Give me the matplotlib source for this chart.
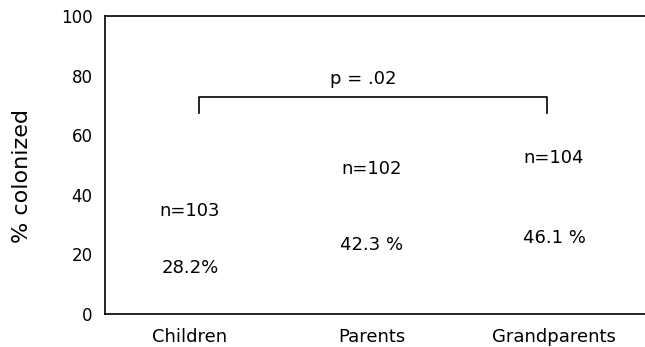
import matplotlib
matplotlib.use("Agg")
import matplotlib.pyplot as plt

groups = ["Children", "Parents", "Grandparents"]
pct = [28.2, 42.3, 46.1]
pct_labels = ["28.2%", "42.3 %", "46.1 %"]
n_labels = ["n=103", "n=102", "n=104"]
pval = "p = .02"

plt.rcParams["font.family"] = ["DejaVu Sans"]

fig = plt.figure(figsize=(6.45, 3.47), dpi=100)
ax = fig.add_axes([105 / 645, 1 - 314 / 347, 1 - 105 / 645, 298 / 347])

x = range(len(groups))
ax.bar(x, pct, width=0.6, color="white", edgecolor="none")

# labels inside and above the (faded) bars
for i, v in enumerate(pct):
    ax.text(i, v * 0.55, pct_labels[i], ha="center", va="center", fontsize=13)
    ax.text(i, v + 6.3, n_labels[i], ha="center", va="center", fontsize=13)

# significance bracket between children and grandparents
yb, yt = 67.5, 72.8
ax.plot([0.05, 0.05, 1.96, 1.96], [yb, yt, yt, yb], color="black", lw=1.2)
ax.text(0.95, 79, pval, ha="center", va="center", fontsize=13)

ax.set_xlim(-0.467, 2.5)
ax.set_ylim(0, 100)
ax.set_yticks([0, 20, 40, 60, 80, 100])
ax.set_xticks(list(x))
ax.set_xticklabels(groups)
ax.tick_params(axis="both", length=0)
ax.tick_params(axis="x", labelsize=13, pad=10)
ax.tick_params(axis="y", labelsize=12, pad=9)
ax.set_ylabel("% colonized", fontsize=16)
ax.yaxis.set_label_coords(-0.136, 0.463)

ax.spines["right"].set_visible(False)
for s in ["left", "top", "bottom"]:
    ax.spines[s].set_linewidth(1.2)

fig.savefig("out.png", dpi=100)
